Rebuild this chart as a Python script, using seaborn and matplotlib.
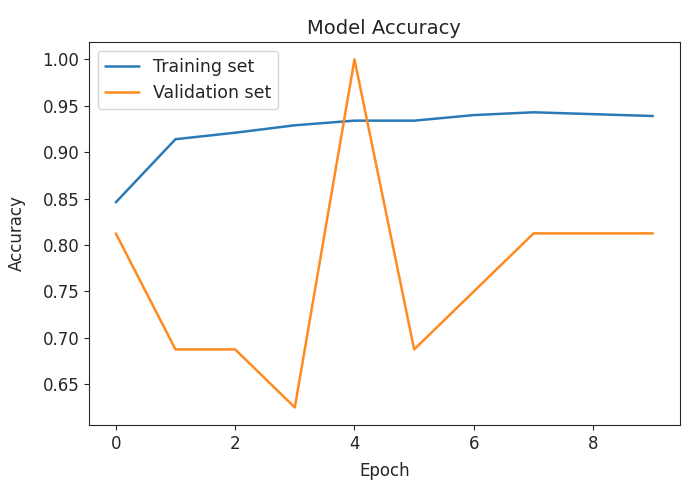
import pandas as pd
import seaborn as sns
import matplotlib.pyplot as plt

# accuracy per epoch
epochs = list(range(10))
train_acc = [0.846, 0.914, 0.921, 0.929, 0.934, 0.934, 0.940, 0.943, 0.941, 0.939]
val_acc = [0.8125, 0.6875, 0.6875, 0.625, 1.0, 0.6875, 0.75, 0.8125, 0.8125, 0.8125]
series_names = ['Training set', 'Validation set']

df = pd.DataFrame({
    'Epoch': epochs * 2,
    'Accuracy': train_acc + val_acc,
    'set': [series_names[0]] * 10 + [series_names[1]] * 10,
})

sns.set_style('ticks')
plt.rcParams['font.family'] = ['DejaVu Sans']

fig, ax = plt.subplots(figsize=(6.95, 4.94), dpi=100)
fig.subplots_adjust(left=0.128, right=0.978, top=0.915, bottom=0.14)

sns.lineplot(data=df, x='Epoch', y='Accuracy', hue='set',
             palette=['#2a7ab8', '#ff8a1e'], linewidth=1.8, ax=ax)

ax.set_title('Model Accuracy', fontsize=14)
ax.set_xlabel('Epoch', fontsize=12, labelpad=7)
ax.set_ylabel('Accuracy', fontsize=12, labelpad=12)
ax.set_xticks([0, 2, 4, 6, 8])
ax.set_yticks([0.65, 0.70, 0.75, 0.80, 0.85, 0.90, 0.95, 1.00])
ax.tick_params(labelsize=12)
ax.legend(title=None, loc='upper left', fontsize=12.5)

plt.savefig('out.png')
